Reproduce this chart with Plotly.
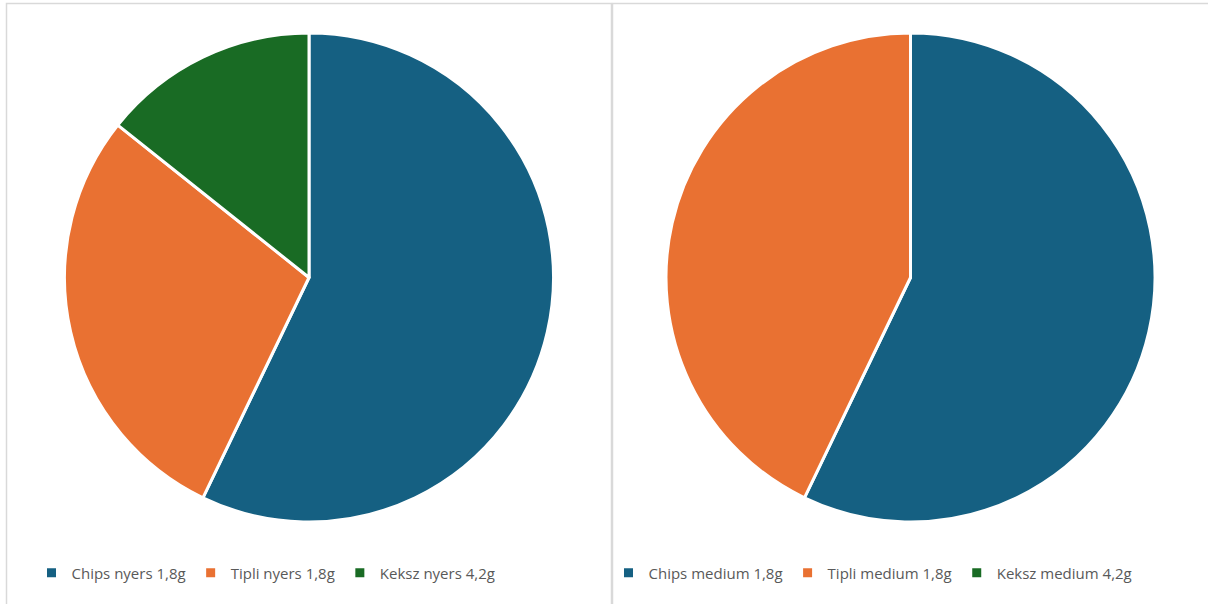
import plotly.graph_objects as go

# Share of each snack per sample set
labels_nyers = ["Chips nyers 1,8g", "Tipli nyers 1,8g", "Keksz nyers 4,2g"]
values_nyers = [4, 2, 1]

labels_medium = ["Chips medium 1,8g", "Tipli medium 1,8g", "Keksz medium 4,2g"]
values_medium = [4, 3, 0]

colors = ["#156082", "#E97132", "#196B24"]

W, H = 1208, 604


def px_x(v):
    return v / W


def px_y(v):
    return 1 - v / H


fig = go.Figure()

fig.add_trace(go.Pie(
    labels=labels_nyers, values=values_nyers,
    marker=dict(colors=colors, line=dict(color="white", width=3)),
    sort=False, direction="clockwise", rotation=0,
    textinfo="none", hoverinfo="label+value+percent",
    domain=dict(x=[px_x(64.5), px_x(553.5)], y=[px_y(522), px_y(33)]),
    legend="legend",
))

fig.add_trace(go.Pie(
    labels=labels_medium, values=values_medium,
    marker=dict(colors=colors, line=dict(color="white", width=3)),
    sort=False, direction="clockwise", rotation=0,
    textinfo="none", hoverinfo="label+value+percent",
    domain=dict(x=[px_x(666), px_x(1155)], y=[px_y(522), px_y(33)]),
    legend="legend2",
))

legend_font = dict(family="Open Sans, Lato, sans-serif", size=15, color="#595959")

fig.update_layout(
    width=W, height=H,
    margin=dict(l=0, r=0, t=0, b=0),
    paper_bgcolor="white",
    plot_bgcolor="white",
    legend=dict(
        orientation="h", x=px_x(266), xanchor="center",
        y=px_y(573), yanchor="middle",
        font=legend_font, bgcolor="rgba(0,0,0,0)",
        itemwidth=30,
    ),
    legend2=dict(
        orientation="h", x=px_x(873), xanchor="center",
        y=px_y(573), yanchor="middle",
        font=legend_font, bgcolor="rgba(0,0,0,0)",
        itemwidth=30,
    ),
    shapes=[
        # chart frames
        dict(type="rect", xref="paper", yref="paper",
             x0=px_x(6.5), x1=px_x(611.5), y0=px_y(620), y1=px_y(3.5),
             line=dict(color="#D9D9D9", width=1.5), layer="below"),
        dict(type="rect", xref="paper", yref="paper",
             x0=px_x(612.5), x1=px_x(1230), y0=px_y(620), y1=px_y(3.5),
             line=dict(color="#D9D9D9", width=1.5), layer="below"),
    ],
)

fig.write_html("out.html")
